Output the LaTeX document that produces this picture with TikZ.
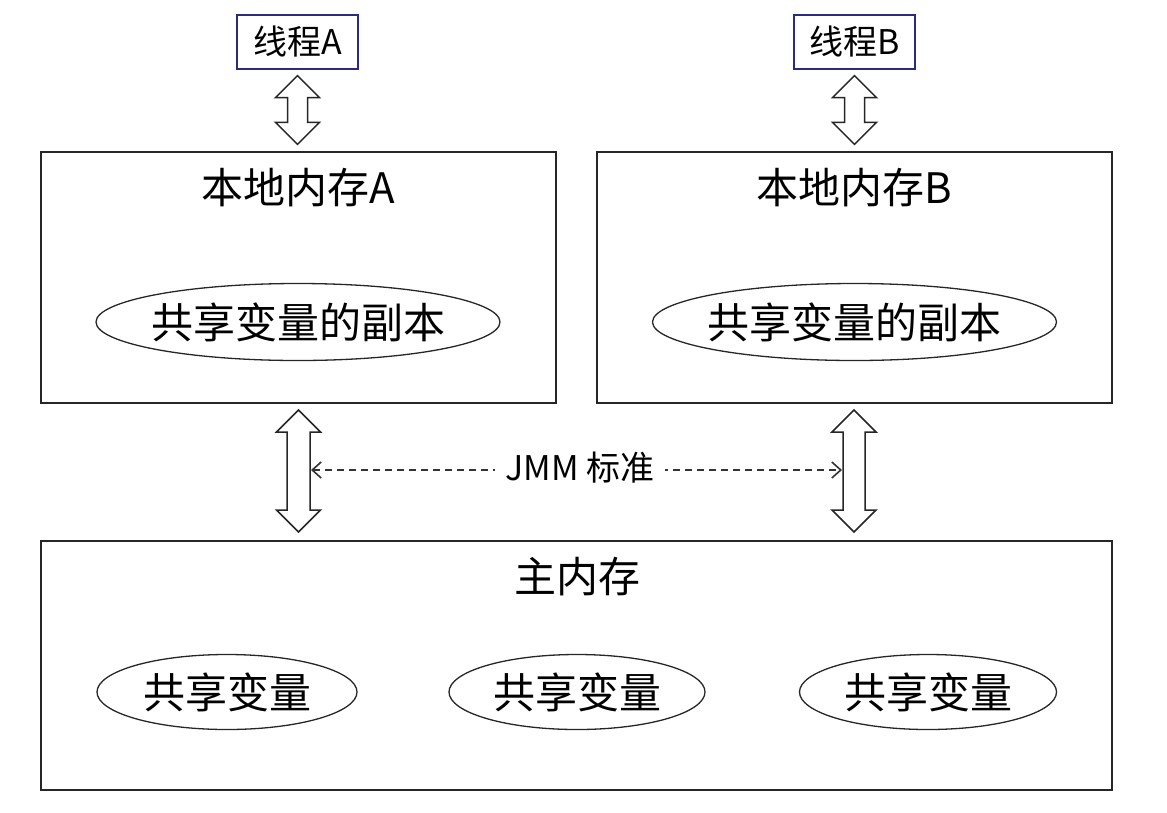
\documentclass[tikz,border=0pt]{standalone}
\usepackage{fontspec}
\setmainfont{Noto Sans CJK SC}
\usetikzlibrary{shapes.geometric,arrows.meta,calc}
\definecolor{navy}{HTML}{2B2B7A}
\tikzset{
  thread/.style={draw=navy,line width=1.3pt,minimum width=121pt,minimum height=54pt,inner sep=0pt,font=\fontsize{34}{40}\selectfont},
  membox/.style={draw=black!85,line width=1.3pt,inner sep=0pt},
  title/.style={inner sep=0pt,font=\fontsize{42}{50}\selectfont},
  var/.style={draw=black!85,line width=1.3pt,ellipse,inner xsep=-30pt,inner ysep=-8pt,minimum height=77pt,font=\fontsize{42}{50}\selectfont},
  dbl/.style={draw=black!85,line width=1.5pt,fill=white,line join=miter},
  jmm/.style={draw=black!80,line width=1.6pt,dash pattern=on 7pt off 5pt,{Straight Barb[length=9pt,width=16pt]}-{Straight Barb[length=9pt,width=16pt]}},
}
% #1 top, #2 bottom, #3 head half-width, #4 shaft half-width, #5 head length
\newcommand\dblarrow[5]{%
  \draw[dbl] let \p1=#1, \p2=#2 in
    ({\x1},{\y1}) -- ({\x1+#3},{\y1-#5}) -- ({\x1+#4},{\y1-#5}) -- ({\x1+#4},{\y2+#5})
    -- ({\x1+#3},{\y2+#5}) -- ({\x1},{\y2}) -- ({\x1-#3},{\y2+#5}) -- ({\x1-#4},{\y2+#5})
    -- ({\x1-#4},{\y1-#5}) -- ({\x1-#3},{\y1-#5}) -- cycle;}
\begin{document}
\begin{tikzpicture}[x=1pt,y=-1pt]
\useasboundingbox (0,0) rectangle (1167,812);
% threads
\node[thread] (tA) at (297.5,42) {线程A};
\node[thread] (tB) at (854.5,42) {线程B};
% local memories
\node[membox,minimum width=515pt,minimum height=251pt] (lA) at (298.5,277.5) {};
\node[membox,minimum width=515pt,minimum height=251pt] (lB) at (854.5,277.5) {};
\node[title] (lAt) at (298,188) {本地内存A};
\node[title] (lBt) at (854,188) {本地内存B};
\node[var,minimum width=404pt] (cA) at (298,322) {共享变量的副本};
\node[var,minimum width=404pt] (cB) at (854.5,322) {共享变量的副本};
% main memory
\node[membox,minimum width=1071pt,minimum height=249pt] (mm) at (576.5,665.5) {};
\node[title] (mmt) at (577,577) {主内存};
\node[var,minimum width=260pt,minimum height=75pt] (v1) at (227,692) {共享变量};
\node[var,minimum width=256pt,minimum height=75pt] (v2) at (577,692) {共享变量};
\node[var,minimum width=257pt,minimum height=75pt] (v3) at (928,692) {共享变量};
% double arrows
\dblarrow{($(tA.south)+(0,6)$)}{($(lA.north-|tA.south)+(0,-7)$)}{22pt}{10pt}{22pt}
\dblarrow{($(tB.south)+(0,6)$)}{($(lB.north-|tB.south)+(0,-7)$)}{22pt}{10pt}{22pt}
\coordinate (aAt) at (298.5,410);
\coordinate (aAb) at (298.5,532);
\coordinate (aBt) at (854,410);
\coordinate (aBb) at (854,532);
\dblarrow{(aAt)}{(aAb)}{22pt}{11.5pt}{22pt}
\dblarrow{(aBt)}{(aBb)}{22pt}{11pt}{22pt}
% JMM
\coordinate (jL) at (311,470);
\coordinate (jR) at (842,470);
\draw[jmm] (jL) -- (jR);
\node[fill=white,inner xsep=10pt,inner ysep=2pt,font=\fontsize{34}{40}\selectfont] (jmmlab) at (580,468) {JMM 标准};
\end{tikzpicture}
\end{document}
